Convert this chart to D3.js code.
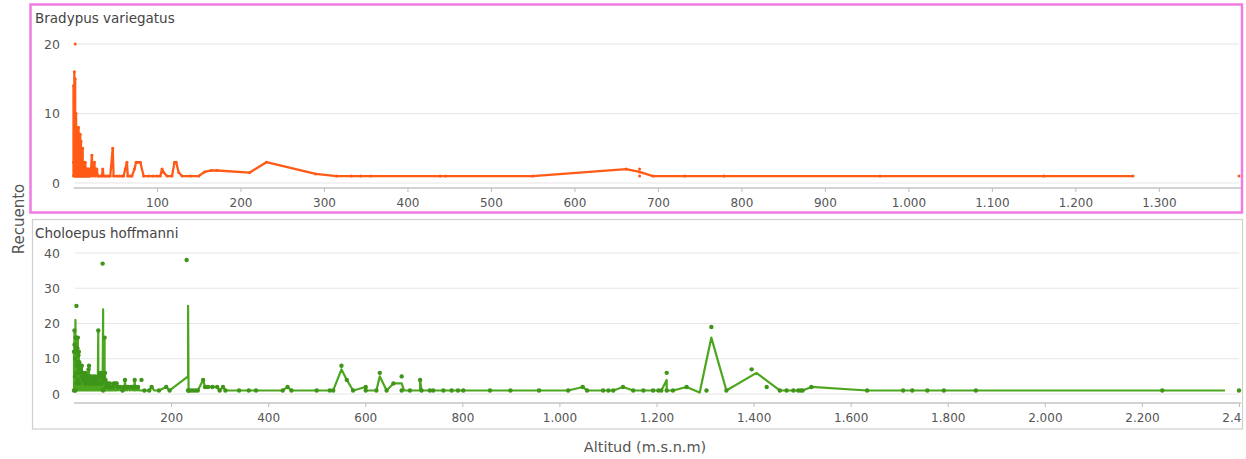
<!DOCTYPE html>
<html><head><meta charset="utf-8">
<script src="https://cdn.jsdelivr.net/npm/d3@7"></script>
<style>
html,body{margin:0;padding:0;background:#fff;}
svg{display:block;font-family:"DejaVu Sans",Verdana,sans-serif;}
</style></head>
<body>
<svg id="chart" width="1246" height="459"></svg>
<script>
// ---- data: [altitude (m.s.n.m), count] ----
const topTitle = "Bradypus variegatus";
const bottomTitle = "Choloepus hoffmanni";
const xLabel = "Altitud (m.s.n.m)";
const yLabel = "Recuento";

const topXTicks = [100,200,300,400,500,600,700,800,900,1000,1100,1200,1300];
const topYTicks = [0,10,20];
const bottomXTicks = [200,400,600,800,1000,1200,1400,1600,1800,2000,2200,2400];
const bottomYTicks = [0,10,20,30,40];

const topLine = [[0,1],[0,14],[0,3],[1,2],[1,16],[1,1],[1,12],[2,1],[2,15],[2,4],[3,3],[3,8],[3,1],[3,10],[4,1],[4,7],[4,2],[4,8],[5,2],[5,8],[5,1],[5,6],[6,1],[6,6],[6,3],[6,8],[7,2],[7,7],[7,1],[7,5],[8,1],[8,5],[8,2],[8,7],[9,2],[9,6],[9,1],[9,4],[10,1],[10,4],[10,2],[11,2],[11,5],[11,1],[12,1],[12,3],[12,2],[13,2],[13,1],[13,3],[14,1],[14,3],[15,1],[15,2],[16,2],[16,1],[17,1],[17,2],[18,2],[18,1],[19,1],[19,2],[20,1],[21,2],[22,4],[23,1],[24,2],[25,3],[26,1],[27,2],[28,2],[29,1],[30,1],[32,1],[34,1],[35,2],[36,1],[38,1],[40,1],[42,1],[44,1],[47,5],[48,1],[52,1],[55,1],[58,1],[60,1],[62,2],[64,3],[65,1],[68,1],[70,1],[73,2],[75,3],[77,3],[80,3],[84,1],[90,1],[95,1],[100,1],[104,1],[106,2],[108,1.5],[112,1],[118,1],[121,3],[123,3],[126,1.5],[130,1],[140,1],[150,1],[157,1.6],[165,1.8],[172,1.8],[211,1.5],[231,3],[290,1.3],[315,1],[333,1],[344,1],[356,1],[439,1],[446,1],[550,1],[662,2],[678,1.6],[694,1],[732,1],[779,1],[966,1],[1162,1],[1269,1]];
const topExtraPoints = [[2,20],[678,2],[678,1],[1396,1]];

const bottomLine = [[0,1],[0,12],[0,3],[1,18],[1,1],[1,14],[2,5],[2,10],[2,1],[3,21],[3,2],[3,16],[4,1],[4,13],[4,6],[5,3],[5,16],[5,1],[6,8],[6,12],[6,1],[7,13],[7,2],[7,9],[8,4],[8,16],[8,1],[9,6],[9,11],[9,1],[10,12],[10,2],[10,7],[11,3],[11,9],[12,1],[12,8],[13,2],[13,6],[14,1],[14,7],[15,2],[15,5],[16,1],[16,8],[17,2],[17,6],[18,1],[18,4],[19,5],[19,1],[20,6],[20,2],[21,4],[21,1],[22,5],[23,1],[23,3],[24,6],[25,1],[25,4],[26,2],[26,5],[27,1],[27,4],[28,3],[28,1],[29,5],[30,7],[30,1],[31,8],[31,2],[32,1],[32,5],[33,3],[34,1],[34,5],[35,2],[36,4],[36,1],[37,3],[38,4],[38,1],[39,5],[40,1],[40,3],[41,2],[42,3],[42,1],[43,4],[44,5],[44,1],[45,3],[46,1],[46,4],[47,2],[48,4],[48,1],[49,3],[50,18],[50,1],[51,5],[52,2],[53,6],[53,1],[54,3],[55,2],[55,5],[56,1],[57,3],[57,6],[58,1],[59,4],[60,24],[60,1],[61,5],[62,2],[63,16],[63,1],[64,6],[64,2],[65,4],[66,2],[66,1],[67,3],[68,1],[69,2],[70,3],[70,1],[72,2],[72,1],[74,3],[75,1],[76,2],[78,1],[80,2],[80,1],[82,3],[84,1],[85,3],[86,1],[88,3],[88,1],[90,2],[92,1],[95,2],[97,1],[100,1],[102,2],[104,1],[105,4],[106,1],[108,2],[110,1],[112,2],[115,1],[118,2],[120,1],[122,2],[124,1],[125,4],[126,1],[128,2],[130,1],[132,2],[134,1],[138,1],[145,1],[155,1],[160,2],[165,1],[175,1],[190,2],[197,1],[235,5],[235,25],[236,1],[240,1],[245,1],[250,1],[255,1],[266,4],[270,2],[276,2],[285,2],[295,2],[300,1],[307,2],[312,1],[340,1],[360,1],[375,1],[430,1],[440,2],[448,1],[500,1],[527,1],[534,1],[551,7],[562,4],[575,1],[601,2],[601,1],[623,1],[630,5],[644,1],[658,3],[675,3],[680,1],[692,1],[713,1],[713,4],[716,1],[733,1],[740,1],[761,1],[778,1],[791,1],[802,1],[857,1],[899,1],[958,1],[1018,1],[1048,2],[1057,1],[1090,1],[1101,1],[1111,1],[1131,2],[1152,1],[1173,1],[1193,1],[1204,1],[1210,1],[1221,4],[1221,1],[1234,1],[1262,2],[1289,0.4],[1313,16],[1344,1],[1406,6],[1454,1],[1468,1],[1482,1],[1492,1],[1497,1],[1501,1],[1519,2],[1634,1],[1708,1],[1727,1],[1758,1],[1792,1],[1858,1],[2242,1],[2371,1]];

const bottomPoints = [[0,1],[0,12],[1,18],[1,14],[2,10],[2,5],[3,1],[3,16],[4,13],[4,6],[5,16],[5,25],[5,3],[6,8],[6,12],[7,13],[7,9],[8,4],[8,16],[9,6],[9,11],[10,12],[10,7],[11,3],[11,9],[12,8],[13,6],[14,7],[15,5],[16,8],[17,6],[18,4],[19,5],[20,6],[21,4],[22,5],[23,3],[24,6],[25,4],[26,5],[27,4],[28,3],[29,5],[30,7],[31,8],[32,5],[33,3],[34,5],[36,4],[37,3],[38,4],[39,5],[40,3],[42,3],[43,4],[44,5],[45,3],[46,4],[48,4],[49,3],[50,18],[51,5],[53,6],[54,3],[55,5],[57,3],[57,6],[59,37],[59,4],[60,1],[61,5],[63,16],[64,6],[65,4],[66,2],[67,3],[70,3],[72,2],[74,3],[75,2],[76,2],[80,2],[82,3],[85,3],[88,3],[90,2],[95,2],[100,1],[102,2],[105,4],[108,2],[110,2],[112,2],[118,2],[120,2],[122,2],[125,4],[128,2],[132,2],[139,4],[145,1],[155,1],[160,2],[175,1],[190,2],[197,1],[232,38],[235,1],[236,1],[240,1],[245,1],[250,1],[255,1],[266,4],[270,2],[276,2],[285,2],[295,2],[300,1],[307,2],[312,1],[340,1],[360,1],[375,1],[430,1],[440,2],[448,1],[500,1],[527,1],[534,1],[551,8],[562,4],[575,1],[601,2],[601,1],[623,1],[630,6],[644,1],[658,3],[675,5],[675,1],[692,1],[713,4],[716,1],[733,1],[740,1],[761,1],[778,1],[791,1],[802,1],[857,1],[899,1],[958,1],[1018,1],[1048,2],[1057,1],[1090,1],[1101,1],[1111,1],[1131,2],[1152,1],[1173,1],[1193,1],[1204,1],[1210,1],[1221,6],[1221,1],[1234,1],[1262,2],[1303,1],[1313,19],[1344,1],[1396,7],[1427,2],[1454,1],[1468,1],[1482,1],[1492,1],[1497,1],[1501,1],[1519,2],[1634,1],[1708,1],[1727,1],[1758,1],[1792,1],[1858,1],[2242,1],[2400,1]];

const orange = "#ff5a16";
const green = "#4ca61e";
const greenDot = "#3f9519";

const svg = d3.select("#chart");
const defs = svg.append("defs");
const fmt = d => d3.format(",")(d).replace(/,/g, ".");

function panel(cfg) {
  const g = svg.append("g");
  defs.append("clipPath").attr("id", cfg.id).append("rect")
    .attr("x", cfg.frame[0]).attr("y", cfg.frame[1])
    .attr("width", cfg.frame[2]).attr("height", cfg.frame[3]);
  const inner = g.append("g").attr("clip-path", `url(#${cfg.id})`);
  inner.append("text").attr("x", 35).attr("y", cfg.titleY).text(cfg.title)
    .attr("font-size", 13.5).attr("fill", "#444");

  const x = d3.scaleLinear().domain(cfg.xDomain).range(cfg.xRange);
  const y = d3.scaleLinear().domain(cfg.yDomain).range(cfg.yRange);

  inner.append("g").selectAll("line").data(cfg.yTicks).join("line")
    .attr("x1", cfg.xRange[0] + 1).attr("x2", cfg.xRange[1])
    .attr("y1", d => y(d)).attr("y2", d => y(d))
    .attr("stroke", "#e6e6e6").attr("stroke-width", 1.2);

  const ya = d3.axisLeft(y).tickValues(cfg.yTicks).tickSize(0).tickPadding(0);
  const yg = inner.append("g").attr("transform", `translate(${cfg.yLabelX},0)`).call(ya);
  yg.select(".domain").remove();
  yg.selectAll("text").attr("font-size", 12.5).attr("fill", "#555").attr("font-family", "DejaVu Sans, sans-serif");

  const xa = d3.axisBottom(x).tickValues(cfg.xTicks).tickSize(4).tickSizeOuter(0).tickFormat(fmt).tickPadding(6);
  const xg = inner.append("g").attr("transform", `translate(0,${cfg.axisY})`).call(xa);
  xg.select(".domain").attr("stroke", "#c4c4c4").attr("stroke-width", 1.6)
    .attr("d", `M${cfg.xRange[0]},0H${cfg.xRange[1] + 2}`);
  xg.selectAll(".tick line").attr("stroke", "#bdbdbd");
  xg.selectAll("text").attr("font-size", 12).attr("fill", "#555").attr("font-family", "DejaVu Sans, sans-serif");

  const line = d3.line().x(d => x(d[0])).y(d => y(d[1]));
  inner.append("path").datum(cfg.line).attr("d", line)
    .attr("fill", "none").attr("stroke", cfg.color).attr("stroke-width", cfg.lineWidth)
    .attr("stroke-linejoin", "round");

  inner.append("g").selectAll("circle").data(cfg.points).join("circle")
    .attr("cx", d => x(d[0])).attr("cy", d => y(d[1]))
    .attr("r", cfg.r).attr("fill", cfg.dotColor);

  g.append("rect").attr("x", cfg.frame[0]).attr("y", cfg.frame[1])
    .attr("width", cfg.frame[2]).attr("height", cfg.frame[3])
    .attr("fill", "none").attr("stroke", cfg.frameColor).attr("stroke-width", cfg.frameWidth);
}

panel({
  id: "clipTop",
  frame: [30.5, 4.5, 1211.5, 208], frameColor: "#f07be3", frameWidth: 2.5,
  title: topTitle, titleY: 23,
  xDomain: [0, 1396], xRange: [73.5, 1239],
  yDomain: [0, 20], yRange: [183, 44],
  yTicks: topYTicks, xTicks: topXTicks, yLabelX: 60, axisY: 188,
  line: topLine, points: topLine.concat(topExtraPoints),
  color: orange, dotColor: orange, lineWidth: 2.3, r: 1.5
});

panel({
  id: "clipBottom",
  frame: [32.5, 219.5, 1210, 209.5], frameColor: "#cfcfcf", frameWidth: 1.2,
  title: bottomTitle, titleY: 238,
  xDomain: [0, 2400], xRange: [74, 1239],
  yDomain: [0, 40], yRange: [394, 253],
  yTicks: bottomYTicks, xTicks: bottomXTicks, yLabelX: 60, axisY: 403,
  line: bottomLine, points: bottomPoints,
  color: green, dotColor: greenDot, lineWidth: 2.2, r: 2.2
});

svg.append("text").attr("transform", "translate(24,219) rotate(-90)")
  .attr("text-anchor", "middle").attr("font-size", 15).attr("fill", "#555").text(yLabel);
svg.append("text").attr("x", 645).attr("y", 452)
  .attr("text-anchor", "middle").attr("font-size", 14.5).attr("fill", "#555").text(xLabel);
</script>
</body></html>
